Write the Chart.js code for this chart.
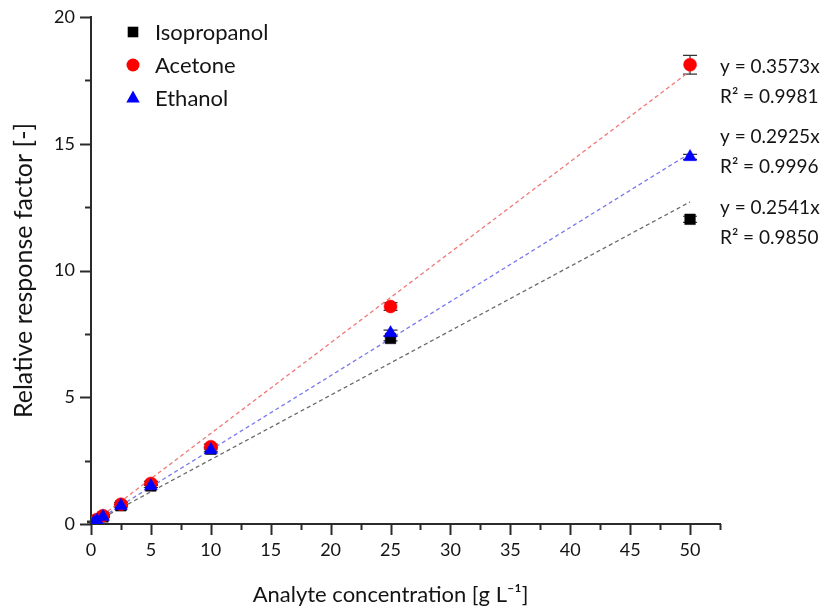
<!DOCTYPE html>
<html>
<head>
<meta charset="utf-8">
<script src="https://cdn.jsdelivr.net/npm/chart.js@4.4.1/dist/chart.umd.min.js"></script>
<style>
html,body{margin:0;padding:0;background:#fff;}
#wrap{width:821px;height:609px;}
</style>
</head>
<body>
<div id="wrap"><canvas id="c" width="821" height="609"></canvas></div>
<script>
// ---- data ----
const concentrations = [0.25, 0.5, 1, 2.5, 5, 10, 25, 50];
const isopropanol    = [0.07, 0.14, 0.28, 0.72, 1.50, 2.95, 7.32, 12.02];
const acetone        = [0.09, 0.18, 0.33, 0.78, 1.60, 3.05, 8.58, 18.12];
const ethanol        = [0.07, 0.14, 0.29, 0.72, 1.50, 2.92, 7.53, 14.48];
const isopropanolErr = [0.02, 0.02, 0.03, 0.05, 0.06, 0.08, 0.10, 0.12];
const acetoneErr     = [0.02, 0.03, 0.04, 0.06, 0.08, 0.10, 0.15, 0.37];
const ethanolErr     = [0.02, 0.02, 0.03, 0.05, 0.06, 0.08, 0.12, 0.10];
const fitX           = [0, 50];
const isopropanolFit = [0, 12.705];
const acetoneFit     = [0, 17.865];
const ethanolFit     = [0, 14.625];
const seriesNames    = ['Isopropanol', 'Acetone', 'Ethanol'];
const equations      = ['y = 0.2541x', 'y = 0.3573x', 'y = 0.2925x'];
const rSquared       = ['R\u00B2 = 0.9850', 'R\u00B2 = 0.9981', 'R\u00B2 = 0.9996'];
const xTicks         = [0, 5, 10, 15, 20, 25, 30, 35, 40, 45, 50];
const yTicks         = [0, 5, 10, 15, 20];
const xTitle         = 'Analyte concentration [g L\u207B\u00B9]';
const yTitle         = 'Relative response factor [-]';

const FONT = "Lato, 'Open Sans', sans-serif";
const AXIS = '#2b2b2b';
const TEXT = '#141414';

const pts = (ys) => concentrations.map((x, i) => ({x, y: ys[i]}));
const fit = (ys) => fitX.map((x, i) => ({x, y: ys[i]}));

const styles = {
  Isopropanol: {color: '#000000', style: 'rect', radius: 7.5},
  Acetone:     {color: '#ff0000', style: 'circle', radius: 6.5},
  Ethanol:     {color: '#0000ff', style: 'triangle', radius: 7.5}
};

function markerDataset(name, ys, errs) {
  const s = styles[name];
  return {
    type: 'scatter', label: name, data: pts(ys), errors: errs,
    pointStyle: s.style, pointRadius: s.radius, pointHoverRadius: s.radius,
    backgroundColor: s.color, borderColor: s.color, borderWidth: 0.5, showLine: false
  };
}
function fitDataset(name, ys, color) {
  return {
    type: 'line', label: name + ' fit', data: fit(ys),
    borderColor: color, borderWidth: 1.3, borderDash: [4, 3], pointRadius: 0,
    fill: false, tension: 0
  };
}

const errorBars = {
  id: 'errorBars',
  beforeDatasetsDraw(chart) {
    const {ctx, scales: {x, y}} = chart;
    ctx.save();
    ctx.strokeStyle = '#333';
    ctx.lineWidth = 1.2;
    chart.data.datasets.forEach((ds) => {
      if (!ds.errors) return;
      ds.data.forEach((p, i) => {
        const e = ds.errors[i];
        const px = x.getPixelForValue(p.x);
        const y1 = y.getPixelForValue(p.y + e), y2 = y.getPixelForValue(p.y - e);
        ctx.beginPath();
        ctx.moveTo(px, y1); ctx.lineTo(px, y2);
        ctx.moveTo(px - 7, y1); ctx.lineTo(px + 7, y1);
        ctx.moveTo(px - 7, y2); ctx.lineTo(px + 7, y2);
        ctx.stroke();
      });
    });
    ctx.restore();
  }
};

function drawMarker(ctx, style, cx, cy, r, color) {
  ctx.fillStyle = color;
  ctx.beginPath();
  if (style === 'circle') {
    ctx.arc(cx, cy, r, 0, Math.PI * 2);
  } else if (style === 'rect') {
    const s = r * Math.SQRT1_2;
    ctx.rect(cx - s, cy - s, 2 * s, 2 * s);
  } else {
    ctx.moveTo(cx, cy - r);
    ctx.lineTo(cx + r * 0.9, cy + r * 0.6);
    ctx.lineTo(cx - r * 0.9, cy + r * 0.6);
    ctx.closePath();
  }
  ctx.fill();
}

const decorations = {
  id: 'decorations',
  afterDraw(chart) {
    const {ctx, scales: {x, y}, chartArea} = chart;
    ctx.save();
    // axis ticks (major & minor)
    ctx.strokeStyle = AXIS;
    ctx.lineWidth = 2;
    for (let v = 0; v <= 52.5 + 1e-9; v += 2.5) {
      const px = Math.round(x.getPixelForValue(v)) + 0.5;
      const len = (v % 5 === 0) ? 11 : 6;
      ctx.beginPath(); ctx.moveTo(px, chartArea.bottom); ctx.lineTo(px, chartArea.bottom + len); ctx.stroke();
    }
    for (let v = 0; v <= 20 + 1e-9; v += 2.5) {
      const py = Math.round(y.getPixelForValue(v)) + 0.5;
      const len = (v % 5 === 0) ? 11 : 6;
      ctx.beginPath(); ctx.moveTo(chartArea.left, py); ctx.lineTo(chartArea.left - len, py); ctx.stroke();
    }
    // x axis title, centred under the 0-50 range
    ctx.fillStyle = TEXT;
    ctx.font = '22px ' + FONT;
    ctx.textAlign = 'center';
    ctx.textBaseline = 'middle';
    ctx.fillText(xTitle, x.getPixelForValue(25), 595);
    // legend
    ctx.font = '22px ' + FONT;
    ctx.textAlign = 'left';
    const legendY = [32, 65, 98];
    seriesNames.forEach((n, i) => {
      const s = styles[n];
      drawMarker(ctx, s.style, 133, legendY[i], s.radius, s.color);
      ctx.fillStyle = TEXT;
      ctx.fillText(n, 155, legendY[i] + 1);
    });
    // equations
    ctx.font = '19px ' + FONT;
    const labelY = [208, 67, 137];
    equations.forEach((eq, i) => {
      ctx.fillStyle = TEXT;
      ctx.fillText(eq, 720, labelY[i]);
      ctx.fillText(rSquared[i], 720, labelY[i] + 30);
    });
    ctx.restore();
  }
};

new Chart(document.getElementById('c'), {
  data: {
    datasets: [
      markerDataset('Ethanol', ethanol, ethanolErr),
      markerDataset('Acetone', acetone, acetoneErr),
      markerDataset('Isopropanol', isopropanol, isopropanolErr),
      fitDataset('Isopropanol', isopropanolFit, '#6b6b6b'),
      fitDataset('Acetone', acetoneFit, '#f07878'),
      fitDataset('Ethanol', ethanolFit, '#7878f0')
    ]
  },
  options: {
    responsive: false,
    animation: false,
    events: [],
    layout: {padding: {left: 0, right: 101, top: 17, bottom: 0}},
    plugins: {legend: {display: false}, tooltip: {enabled: false}},
    scales: {
      x: {
        type: 'linear', min: 0, max: 52.5,
        afterFit(s) { s.height = 85; },
        afterBuildTicks(s) { s.ticks = xTicks.map(v => ({value: v})); },
        border: {display: true, color: AXIS, width: 2},
        grid: {display: true, drawOnChartArea: false, drawTicks: true, tickLength: 11, color: 'rgba(0,0,0,0)'},
        ticks: {color: TEXT, font: {family: FONT, size: 18}, padding: 4, maxRotation: 0, autoSkip: false},
        title: {display: false}
      },
      y: {
        type: 'linear', min: 0, max: 20,
        afterFit(s) { s.width = 91; },
        afterBuildTicks(s) { s.ticks = yTicks.map(v => ({value: v})); },
        border: {display: true, color: AXIS, width: 2},
        grid: {display: true, drawOnChartArea: false, drawTicks: true, tickLength: 11, color: 'rgba(0,0,0,0)'},
        ticks: {color: TEXT, font: {family: FONT, size: 18}, padding: 5},
        title: {display: true, text: yTitle, color: TEXT,
                font: {family: FONT, size: 25}, padding: {top: 9, bottom: 0}}
      }
    }
  },
  plugins: [errorBars, decorations]
});
</script>
</body>
</html>
